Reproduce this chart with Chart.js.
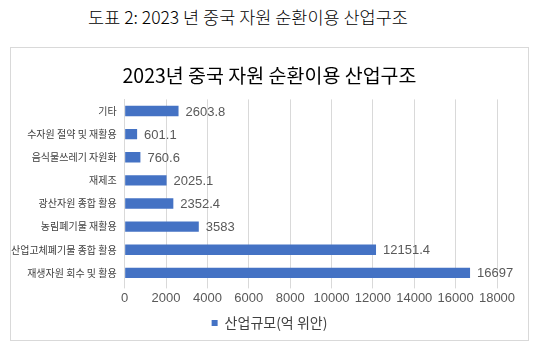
<!DOCTYPE html>
<html>
<head>
<meta charset="utf-8">
<script src="https://cdn.jsdelivr.net/npm/chart.js@4"></script>
<style>
  body { margin: 0; background: #fff; font-family: "Noto Sans CJK KR", sans-serif; }
  #heading {
    position: absolute; left: 0; top: 4px; width: 496px;
    text-align: center; font-size: 17.5px; font-weight: 300; color: #000;
  }
  #box {
    position: absolute; left: 10px; top: 47px; width: 519px; height: 294px;
    border: 1px solid #d9d9d9; box-sizing: border-box;
  }
</style>
</head>
<body>
<div id="heading">도표 2: 2023 년 중국 자원 순환이용 산업구조</div>
<div id="box"><canvas id="industryChart"></canvas></div>
<script>
const categories = [
  "기타",
  "수자원 절약 및 재활용",
  "음식물쓰레기 자원화",
  "재제조",
  "광산자원 종합 활용",
  "농림폐기물 재활용",
  "산업고체폐기물 종합 활용",
  "재생자원 회수 및 활용",
];
const industryScale = [2603.8, 601.1, 760.6, 2025.1, 2352.4, 3583, 12151.4, 16697];
const valueLabels = ["2603.8", "601.1", "760.6", "2025.1", "2352.4", "3583", "12151.4", "16697"];
const xTicks = [0, 2000, 4000, 6000, 8000, 10000, 12000, 14000, 16000, 18000];

const barColor = "#4472C4";
const gridColor = "#d9d9d9";
const tickColor = "#595959";

// draws value labels next to each bar
const valueLabelPlugin = {
  id: "valueLabels",
  afterDatasetsDraw(chart) {
    const ctx = chart.ctx;
    const meta = chart.getDatasetMeta(0);
    ctx.save();
    ctx.font = '13px "Liberation Sans", Arial, sans-serif';
    ctx.fillStyle = "#595959";
    ctx.textBaseline = "middle";
    meta.data.forEach((bar, i) => {
      ctx.fillText(valueLabels[i], bar.x + 7, bar.y + 1);
    });
    ctx.restore();
  },
};

new Chart(document.getElementById("industryChart").getContext("2d"), {
  type: "bar",
  data: {
    labels: categories,
    datasets: [
      {
        label: "산업규모(억 위안)",
        data: industryScale,
        backgroundColor: barColor,
        borderWidth: 0,
        categoryPercentage: 0.9,
        barPercentage: 0.5,
      },
    ],
  },
  options: {
    indexAxis: "y",
    responsive: true,
    maintainAspectRatio: false,
    animation: false,
    layout: {
      padding: { left: 0, right: 0, top: 4, bottom: 0 },
    },
    scales: {
      x: {
        min: 0,
        max: 18000,
        afterBuildTicks(scale) {
          scale.ticks = xTicks.map((v) => ({ value: v }));
        },
        afterFit(scale) {
          // leave room on the right for the value labels
          scale.paddingRight = 31;
        },
        grid: {
          color: gridColor,
          drawTicks: true,
          tickLength: 4,
        },
        border: { display: false },
        ticks: {
          color: tickColor,
          font: { family: '"Liberation Sans", Arial, sans-serif', size: 13 },
          padding: 2,
          maxRotation: 0,
          autoSkip: false,
          callback: (v) => String(v),
        },
      },
      y: {
        grid: { display: false },
        border: { color: gridColor },
        ticks: {
          color: "#404040",
          font: { family: '"Noto Sans CJK KR", sans-serif', size: 10 },
          padding: 0,
        },
      },
    },
    plugins: {
      title: {
        display: true,
        text: "2023년 중국 자원 순환이용 산업구조",
        color: "#000",
        font: { family: '"Noto Sans CJK KR", sans-serif', size: 19.5, weight: "normal" },
        padding: { top: 12, bottom: 12 },
      },
      legend: {
        position: "bottom",
        labels: {
          color: "#404040",
          font: { family: '"Noto Sans CJK KR", sans-serif', size: 14 },
          boxWidth: 6,
          boxHeight: 6,
          padding: 8,
        },
      },
      tooltip: { enabled: false },
    },
  },
  plugins: [valueLabelPlugin],
});
</script>
</body>
</html>
